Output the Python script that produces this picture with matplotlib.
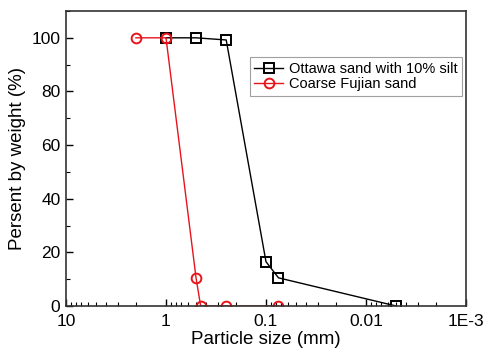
import matplotlib.pyplot as plt
from matplotlib.ticker import FixedLocator, FixedFormatter, LogLocator, MultipleLocator

plt.rcParams['font.family'] = ['Liberation Sans', 'DejaVu Sans']

# grain size distribution
ottawa_size = [1.0, 0.5, 0.25, 0.1, 0.075, 0.005]
ottawa_pct = [100, 100, 99.2, 16.5, 10.5, 0]
fujian_size = [2.0, 1.0, 0.5, 0.45, 0.25, 0.075]
fujian_pct = [100, 100, 10.3, 0, 0, 0]

xtick_vals = [10, 1, 0.1, 0.01, 0.001]
xtick_labels = ['10', '1', '0.1', '0.01', '1E-3']

fig = plt.figure(figsize=(4.85, 3.55), dpi=100)
ax = fig.add_axes([66/485, 1 - 306/355, 400/485, 295/355])

ax.plot(ottawa_size, ottawa_pct, color='black', lw=1, marker='s', ms=7,
        mfc='none', mew=1.4, label='Ottawa sand with 10% silt')
ax.plot(fujian_size, fujian_pct, color='#e8141b', lw=1, marker='o', ms=7,
        mfc='none', mew=1.4, label='Coarse Fujian sand')

ax.set_xscale('log')
ax.set_xlim(10, 0.001)
ax.set_ylim(0, 110)
ax.xaxis.set_major_locator(FixedLocator(xtick_vals))
ax.xaxis.set_major_formatter(FixedFormatter(xtick_labels))
ax.xaxis.set_minor_locator(LogLocator(base=10, subs=range(2, 10), numticks=20))
ax.yaxis.set_major_locator(MultipleLocator(20))
ax.yaxis.set_minor_locator(MultipleLocator(10))
ax.tick_params(which='both', direction='in', top=False, right=False, labelsize=12.5)
ax.tick_params(which='major', length=5, width=1)
ax.tick_params(which='minor', length=3, width=0.8)
ax.tick_params(axis='x', pad=6)
ax.tick_params(axis='y', pad=4)
for s in ax.spines.values():
    s.set_linewidth(1.2)
    s.set_color('#333333')

ax.set_xlabel('Particle size (mm)', fontsize=13.5, labelpad=1)
ax.set_ylabel('Persent by weight (%)', fontsize=13.5, labelpad=4)

leg = ax.legend(loc='upper right', bbox_to_anchor=(0.99, 0.843), fontsize=10.5,
                frameon=True, fancybox=False, edgecolor='#888888',
                handlelength=2.0, handletextpad=0.4, borderpad=0.3,
                labelspacing=0.1, borderaxespad=0)
leg.get_frame().set_linewidth(0.8)

fig.savefig('out.png', dpi=100, facecolor='white')
